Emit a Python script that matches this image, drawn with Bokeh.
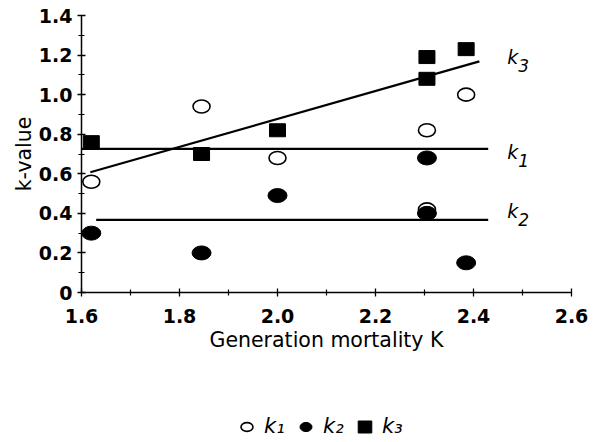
from bokeh.plotting import figure
from bokeh.layouts import column
from bokeh.models import (Range1d, FixedTicker, Legend, LegendItem,
                          ColumnDataSource, CustomJSTickFormatter)
from bokeh.core.properties import value
from bokeh.embed import file_html
from bokeh.resources import INLINE

# ---- data ----
gen_K = [1.62, 1.845, 2.00, 2.305, 2.305, 2.385]
k1 = [0.56, 0.94, 0.68, 0.82, 0.42, 1.00]
k2 = [0.30, 0.20, 0.49, 0.68, 0.40, 0.15]
k3 = [0.76, 0.70, 0.82, 1.08, 1.19, 1.23]

k1_line_x = [1.60, 2.43]
k1_line_y = [0.726, 0.726]
k2_line_x = [1.63, 2.43]
k2_line_y = [0.367, 0.367]
k3_line_x = [1.618, 2.412]
k3_line_y = [0.608, 1.168]

x_ticks = [1.6, 1.8, 2.0, 2.2, 2.4, 2.6]
x_minor = [1.7, 1.9, 2.1, 2.3, 2.5]
y_ticks = [0, 0.2, 0.4, 0.6, 0.8, 1.0, 1.2, 1.4]
y_minor = [0.1, 0.3, 0.5, 0.7, 0.9, 1.1, 1.3]

line_labels = ["k", "k", "k"]
line_subs = ["3", "1", "2"]
line_label_x = [2.469, 2.469, 2.469]
line_label_y = [1.19, 0.71, 0.41]

legend_labels = ["k\u2081", "k\u2082", "k\u2083"]
x_title = "Generation mortality K"
y_title = "k-value"

FONT = "DejaVu Sans"

OPEN = dict(fill_color="white", line_color="black", line_width=1.6)
FILLED = dict(fill_color="black", line_color="black", line_width=1)

p = figure(width=599, height=392, output_backend="svg", toolbar_location=None,
           x_range=Range1d(1.6, 2.6), y_range=Range1d(0, 1.4),
           min_border_left=81, min_border_right=28, min_border_top=15,
           min_border_bottom=100)
p.frame_width = 490
p.frame_height = 277
p.outline_line_color = None
p.xgrid.visible = False
p.ygrid.visible = False
p.background_fill_color = "white"
p.border_fill_color = "white"

for ax, ticks, minor in ((p.xaxis[0], x_ticks, x_minor), (p.yaxis[0], y_ticks, y_minor)):
    ax.ticker = FixedTicker(ticks=ticks, minor_ticks=minor)
    ax.axis_line_width = 1.5
    ax.axis_line_color = "black"
    ax.major_tick_line_color = "black"
    ax.minor_tick_line_color = "black"
    ax.major_tick_line_width = 1.3
    ax.minor_tick_line_width = 1.2
    ax.major_tick_in = 4
    ax.major_tick_out = 4
    ax.minor_tick_in = 3
    ax.minor_tick_out = 3
    ax.major_label_text_font = FONT
    ax.major_label_text_font_size = "19px"
    ax.major_label_text_font_style = "bold"
    ax.major_label_text_color = "black"
    ax.axis_label_text_font = FONT
    ax.axis_label_text_font_size = "20.5px"
    ax.axis_label_text_font_style = "normal"
    ax.axis_label_text_color = "black"

p.xaxis.axis_label = x_title
p.yaxis.axis_label = y_title
p.xaxis.major_label_standoff = 12
p.yaxis.major_label_standoff = 5
p.xaxis.axis_label_standoff = 2
p.yaxis.axis_label_standoff = 0
p.yaxis.formatter = CustomJSTickFormatter(code="return tick == 0 ? '0' : tick.toFixed(1);")
p.xaxis.formatter = CustomJSTickFormatter(code="return tick.toFixed(1);")

# lines
for lx, ly in ((k1_line_x, k1_line_y), (k2_line_x, k2_line_y), (k3_line_x, k3_line_y)):
    p.line(lx, ly, line_color="black", line_width=2.2)

# markers
p.ellipse(gen_K, k1, width=17, height=13, width_units="screen", height_units="screen", **OPEN)
p.ellipse(gen_K, k2, width=19, height=14, width_units="screen", height_units="screen", **FILLED)
p.rect(gen_K, k3, width=16, height=13, width_units="screen", height_units="screen", **FILLED)

# line labels
src = ColumnDataSource(dict(x=line_label_x, y=line_label_y, t=line_labels, s=line_subs))
p.text(x="x", y="y", text="t", source=src, text_font=value(FONT), text_font_style="italic",
       text_font_size="19px", text_baseline="alphabetic", text_align="left", text_color="black")
p.text(x="x", y="y", text="s", source=src, text_font=value(FONT), text_font_style="italic",
       text_font_size="17px", text_baseline="alphabetic", text_align="left", text_color="black",
       x_offset=11, y_offset=8)

# ---- legend strip below the chart (its key glyphs hold one point, out of view) ----
lf = figure(width=599, height=50, output_backend="svg", toolbar_location=None,
            min_border=0, x_range=Range1d(0, 1), y_range=Range1d(0, 1))
lf.axis.visible = False
lf.grid.visible = False
lf.outline_line_color = None
lf.background_fill_color = "white"
lf.border_fill_color = "white"
e1 = lf.ellipse(gen_K[:1], k1[:1], width=15, height=11, width_units="screen",
                height_units="screen", **OPEN)
e2 = lf.ellipse(gen_K[:1], k2[:1], width=17, height=13, width_units="screen",
                height_units="screen", **FILLED)
e3 = lf.rect(gen_K[:1], k3[:1], width=13, height=11, width_units="screen",
             height_units="screen", **FILLED)

legend = Legend(items=[LegendItem(label=legend_labels[0], renderers=[e1]),
                       LegendItem(label=legend_labels[1], renderers=[e2]),
                       LegendItem(label=legend_labels[2], renderers=[e3])],
                location=(157, 4), orientation="horizontal",
                label_text_font=FONT, label_text_font_style="italic",
                label_text_font_size="21px", label_text_color="black",
                label_standoff=9, spacing=5, label_width=28,
                glyph_width=17, glyph_height=15, padding=0, margin=0,
                border_line_color=None, background_fill_alpha=0)
lf.add_layout(legend, "center")

layout = column(p, lf, spacing=0)
open("out.html", "w").write(file_html(layout, INLINE))
